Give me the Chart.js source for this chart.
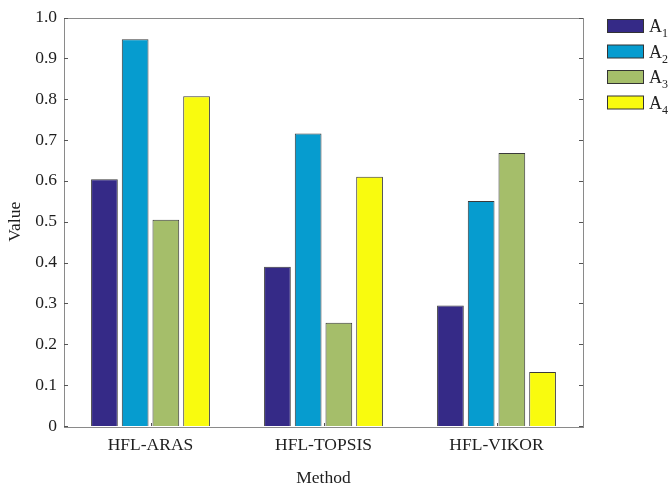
<!DOCTYPE html>
<html>
<head>
<meta charset="utf-8">
<script src="https://cdn.jsdelivr.net/npm/chart.js@4"></script>
<style>
    html, body { margin: 0; padding: 0; background: #fff; }
    #wrap { width: 671px; height: 487px; }
</style>
</head>
<body>
<div id="wrap"><canvas id="myChart" width="671" height="487"></canvas></div>
<script>
let methods = ["HFL-ARAS", "HFL-TOPSIS", "HFL-VIKOR"];
let altNames = ["A1", "A2", "A3", "A4"];
let a1 = [0.604, 0.390, 0.295];
let a2 = [0.947, 0.716, 0.551];
let a3 = [0.505, 0.253, 0.668];
let a4 = [0.807, 0.610, 0.132];
let yTicks = [0, 0.1, 0.2, 0.3, 0.4, 0.5, 0.6, 0.7, 0.8, 0.9, 1.0];

let farben = ["rgb(53, 42, 135)", "rgb(6, 156, 207)", "rgb(165, 190, 106)", "rgb(249, 251, 14)"];
const schrift = "'Liberation Serif', 'Times New Roman', serif";

// Rahmen, Ticks nach innen und Legende mit Index
const extras =
{
    id: "extras",
    afterDraw(chart)
    {
        const ctx = chart.ctx;
        const a = chart.chartArea;
        const y = chart.scales.y;
        const x = chart.scales.x;
        ctx.save();
        ctx.strokeStyle = "#8a8a8a";
        ctx.lineWidth = 1;
        ctx.strokeRect(Math.round(a.left) + 0.5, Math.round(a.top) + 0.5,
            Math.round(a.right - a.left), Math.round(a.bottom - a.top));

        ctx.strokeStyle = "#555";
        ctx.beginPath();
        yTicks.forEach(v =>
        {
            const py = Math.round(y.getPixelForValue(v)) + 0.5;
            ctx.moveTo(a.left, py); ctx.lineTo(a.left + 4, py);
            ctx.moveTo(a.right, py); ctx.lineTo(a.right - 4, py);
        });
        methods.forEach((m, i) =>
        {
            const px = Math.round(x.getPixelForValue(i)) + 0.5;
            ctx.moveTo(px, a.bottom); ctx.lineTo(px, a.bottom - 3);
        });
        ctx.stroke();

        // Legende
        chart.data.datasets.forEach((ds, i) =>
        {
            const ly = 19 + i * 25.5;
            ctx.fillStyle = ds.backgroundColor;
            ctx.fillRect(607.5, ly + 0.5, 36, 13);
            ctx.strokeStyle = "#333";
            ctx.strokeRect(607.5, ly + 0.5, 36, 13);
            ctx.fillStyle = "#222";
            ctx.textBaseline = "alphabetic";
            ctx.font = "18px " + schrift;
            ctx.fillText("A", 649, ly + 13);
            ctx.font = "12px " + schrift;
            ctx.fillText(String(i + 1), 662, ly + 18);
        });
        ctx.restore();
    }
};

let reihen = [a1, a2, a3, a4];

const config =
{
    type: "bar",
    data:
    {
        labels: methods,
        datasets: reihen.map((werte, i) => ({
            label: altNames[i],
            data: werte,
            backgroundColor: farben[i],
            borderColor: "#3a3a3a",
            borderWidth: 1,
            barPercentage: 0.87,
            categoryPercentage: 0.71
        }))
    },
    options:
    {
        responsive: false,
        animation: false,
        layout: { padding: { left: 0, top: 16, right: 88, bottom: 0 } },
        plugins:
        {
            legend: { display: false },
            tooltip: { enabled: false }
        },
        scales:
        {
            x:
            {
                grid: { display: false, drawTicks: false },
                border: { display: false },
                ticks: { color: "#1e1e1e", font: { family: schrift, size: 17.5 }, padding: 9, maxRotation: 0 },
                title: { display: true, text: "Method", color: "#1e1e1e", font: { family: schrift, size: 17.5 }, padding: { top: 0, bottom: -2 } },
                afterFit(scale) { scale.height = 61; }
            },
            y:
            {
                min: 0,
                max: 1,
                grid: { display: false, drawTicks: false },
                border: { display: false },
                ticks:
                {
                    stepSize: 0.1,
                    color: "#1e1e1e",
                    padding: 7,
                    font: { family: schrift, size: 17.5 },
                    callback: v => (Math.abs(v) < 1e-9 ? "0" : v.toFixed(1))
                },
                title: { display: true, text: "Value", color: "#1e1e1e", font: { family: schrift, size: 17.5 }, padding: { top: 5, bottom: 0 } },
                afterFit(scale) { scale.width = 64; }
            }
        }
    },
    plugins: [extras]
};

new Chart(document.getElementById("myChart"), config);
</script>
</body>
</html>
